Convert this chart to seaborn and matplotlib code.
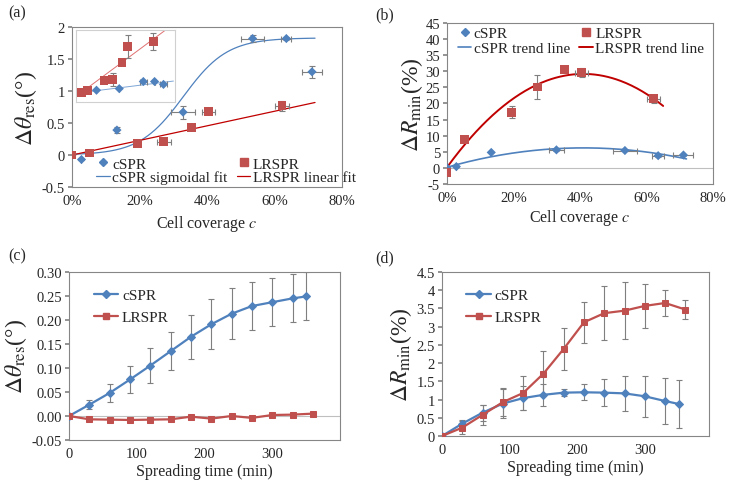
import numpy as np
import seaborn as sns
import matplotlib
matplotlib.use("Agg")
import matplotlib.pyplot as plt
from matplotlib.ticker import FuncFormatter, MultipleLocator
from matplotlib.lines import Line2D

# ---- (a) and (b): response vs cell coverage (%) ----
cov_c = [0, 2.8, 13.3, 32.9, 53.5, 63.5, 71.1]
cov_c_xerr = [0, 0, 0, 3.5, 3.5, 1.5, 3.0]
cov_l = [0, 5.2, 19.5, 27.2, 35.4, 40.5, 62.2]
cov_l_xerr = [0, 0, 0, 2.0, 0, 2.0, 2.0]

theta_c = [0, -0.07, 0.39, 0.67, 1.82, 1.82, 1.30]
theta_c_err = [0, 0, 0.05, 0.10, 0.05, 0.02, 0.09]
theta_l = [0, 0.03, 0.18, 0.21, 0.43, 0.68, 0.77]
theta_l_err = [0, 0, 0, 0.04, 0, 0.04, 0.08]

# fits in (a): sigmoid (A, x0, width) and straight line (slope, intercept)
sigmoid_c = [1.83, 33.0, 6.5]
linear_l = [0.0114, 0.0]

# inset of (a), arbitrary units
ins_x_l = [1.7, 3.4, 8.5, 11.1, 13.9, 15.7, 23.4]
ins_y_l = [0.135, 0.157, 0.305, 0.314, 0.552, 0.776, 0.843]
ins_err_l = [0, 0, 0, 0.09, 0, 0.164, 0.114]
ins_x_c = [6.2, 13.1, 20.4, 23.8, 26.5]
ins_y_c = [0.166, 0.188, 0.287, 0.287, 0.247]
ins_xerr_c = [0, 0, 1.1, 0, 1.1]
ins_fit_l = [0.034, 0.08]
ins_fit_c = [0.0057, 0.125]

dR_c = [0, 0.4, 4.8, 5.6, 5.4, 3.8, 4.0]
dR_c_err = [0, 0, 0, 0.3, 0.3, 0.4, 0.3]
dR_c_xerr = [0, 0, 0, 2.3, 3.5, 1.8, 3.0]
dR_l = [-1.5, 8.9, 17.3, 25.1, 30.5, 29.6, 21.5]
dR_l_err = [0, 0, 1.8, 3.7, 0, 1.5, 1.2]
dR_l_xerr = [0, 0, 0, 0, 0, 2.0, 2.0]

# quadratic trend lines in (b), x in %
trend_c = [-0.00357, 0.293, 0.2]
trend_l = [-0.01726, 1.415, 0.19]

# ---- (c) and (d): response vs spreading time (min) ----
time_c = [0, 30, 60, 90, 120, 150, 180, 210, 240, 270, 300, 330, 350]
time_l = [0, 30, 60, 90, 120, 150, 180, 210, 240, 270, 300, 330, 360]

t_theta_c = [0, 0.0236, 0.048, 0.076, 0.105, 0.135, 0.165, 0.191, 0.213, 0.229, 0.237, 0.245, 0.249]
t_theta_c_err = [0, 0.009, 0.018, 0.029, 0.036, 0.040, 0.046, 0.052, 0.053, 0.050, 0.050, 0.050, 0.050]
t_theta_l = [0, -0.007, -0.0076, -0.0083, -0.0076, -0.007, -0.0014, -0.0055, 0.0, -0.004, 0.002, 0.0028, 0.0049]
t_theta_l_err = [0, 0, 0, 0, 0, 0, 0.002, 0, 0, 0, 0.003, 0, 0]

t_R_c = [0, 0.34, 0.64, 0.89, 1.04, 1.13, 1.19, 1.20, 1.19, 1.17, 1.09, 0.96, 0.88]
t_R_c_err = [0, 0.10, 0.22, 0.40, 0.32, 0.30, 0.09, 0.22, 0.37, 0.48, 0.56, 0.63, 0.67]
t_R_l = [0, 0.23, 0.58, 0.93, 1.18, 1.71, 2.39, 3.12, 3.37, 3.44, 3.57, 3.65, 3.47]
t_R_l_err = [0, 0.18, 0.28, 0.38, 0.46, 0.62, 0.58, 0.57, 0.74, 0.78, 0.60, 0.37, 0.25]

BLUE = "#4F81BD"
RED = "#C0504D"
DARKRED = "#C00000"
GREY = "#868686"
ERR = "#7F7F7F"

sns.set_theme(style="white")
plt.rcParams["font.family"] = ["Liberation Serif", "DejaVu Serif"]
plt.rcParams["mathtext.fontset"] = "stix"
plt.rcParams["axes.unicode_minus"] = False

fig = plt.figure(figsize=(7.29, 4.89), dpi=100)
ax_a = fig.add_axes([0.0988, 0.6155, 0.3704, 0.3272])
ax_b = fig.add_axes([0.6132, 0.6217, 0.3649, 0.3292])
ax_c = fig.add_axes([0.0947, 0.0982, 0.3717, 0.3436])
ax_d = fig.add_axes([0.6063, 0.1063, 0.3663, 0.3354])

gfmt = FuncFormatter(lambda v, p: "{:g}".format(round(v, 3)))


def style(ax):
    for s in ax.spines.values():
        s.set_color(GREY)
        s.set_linewidth(0.8)
    ax.tick_params(labelsize=10.5, length=3, color=GREY, direction="out",
                   left=True, bottom=False, pad=2)


def errs(ax, x, y, yerr, xerr=None):
    ax.errorbar(x, y, yerr=yerr, xerr=xerr, fmt="none", ecolor=ERR,
                elinewidth=0.8, capsize=2, capthick=0.8, zorder=2)


# ---------- (a) ----------
ax = ax_a
style(ax)
xs = np.linspace(0, 72, 200)
A, x0, w = sigmoid_c
ax.plot(xs, A / (1 + np.exp(-(xs - x0) / w)), color=BLUE, lw=0.9, zorder=1)
ax.plot(xs, linear_l[0] * xs + linear_l[1], color=DARKRED, lw=0.9, zorder=1)
errs(ax, cov_c, theta_c, theta_c_err, cov_c_xerr)
errs(ax, cov_l, theta_l, theta_l_err, cov_l_xerr)
sns.scatterplot(x=cov_c, y=theta_c, marker="D", s=22, color=BLUE,
                edgecolor="none", ax=ax, zorder=3)
sns.scatterplot(x=cov_l, y=theta_l, marker="s", s=40, color=RED,
                edgecolor="none", ax=ax, zorder=3)
ax.set_xlim(0, 80)
ax.set_ylim(-0.5, 2)
ax.xaxis.set_major_locator(MultipleLocator(20))
ax.yaxis.set_major_locator(MultipleLocator(0.5))
ax.xaxis.set_major_formatter(FuncFormatter(lambda v, p: "{:.0f}%".format(v)))
ax.yaxis.set_major_formatter(gfmt)
ax.set_xlabel("Cell coverage $c$", fontsize=11.5, labelpad=4)
ax.set_ylabel(r"$\Delta\theta_{\mathrm{res}}$(°)", fontsize=17, labelpad=2)
h = [Line2D([], [], marker="D", ls="none", color=BLUE, ms=4.5),
     Line2D([], [], color=BLUE, lw=0.9),
     Line2D([], [], marker="s", ls="none", color=RED, ms=6),
     Line2D([], [], color=DARKRED, lw=0.9)]
ax.legend(h, ["cSPR", "cSPR sigmoidal fit", "LRSPR", "LRSPR linear fit"],
          ncol=2, loc="lower left", bbox_to_anchor=(0.05, -0.05), frameon=False,
          fontsize=11, handlelength=0.9, handletextpad=0.15, columnspacing=0.6,
          labelspacing=0.0, borderpad=0.2)

# inset
ins = fig.add_axes([0.1043, 0.789, 0.1358, 0.1472])
ins.set_facecolor("white")
for s in ins.spines.values():
    s.set_color("#D0D0D0")
    s.set_linewidth(0.8)
ins.set_xticks([])
ins.set_yticks([])
xi = np.linspace(1.2, 29.5, 50)
ins.plot(xi, ins_fit_l[0] * xi + ins_fit_l[1], color="#E07070", lw=0.7)
ins.plot(xi, ins_fit_c[0] * xi + ins_fit_c[1], color="#7FA6D6", lw=0.7)
errs(ins, ins_x_l, ins_y_l, ins_err_l)
errs(ins, ins_x_c, ins_y_c, None, ins_xerr_c)
sns.scatterplot(x=ins_x_l, y=ins_y_l, marker="s", s=40, color=RED,
                edgecolor="none", ax=ins, zorder=3)
sns.scatterplot(x=ins_x_c, y=ins_y_c, marker="D", s=22, color=BLUE,
                edgecolor="none", ax=ins, zorder=3)
ins.set_xlim(0, 30)
ins.set_ylim(0, 1)

# ---------- (b) ----------
ax = ax_b
style(ax)
ax.axhline(0, color="#BFBFBF", lw=0.8, zorder=0)
xb_c = np.linspace(0, 72, 200)
xb_l = np.linspace(0, 65, 200)
ax.plot(xb_c, np.polyval(trend_c, xb_c), color=BLUE, lw=1.2, zorder=1)
ax.plot(xb_l, np.polyval(trend_l, xb_l), color=DARKRED, lw=1.4, zorder=1)
errs(ax, cov_c, dR_c, dR_c_err, dR_c_xerr)
errs(ax, cov_l, dR_l, dR_l_err, dR_l_xerr)
sns.scatterplot(x=cov_c, y=dR_c, marker="D", s=22, color=BLUE,
                edgecolor="none", ax=ax, zorder=3)
sns.scatterplot(x=cov_l, y=dR_l, marker="s", s=40, color=RED,
                edgecolor="none", ax=ax, zorder=3)
ax.set_xlim(0, 80)
ax.set_ylim(-5, 45)
ax.xaxis.set_major_locator(MultipleLocator(20))
ax.yaxis.set_major_locator(MultipleLocator(5))
ax.xaxis.set_major_formatter(FuncFormatter(lambda v, p: "{:.0f}%".format(v)))
ax.yaxis.set_major_formatter(gfmt)
ax.set_xlabel("Cell coverage $c$", fontsize=11.5, labelpad=2)
ax.set_ylabel(r"$\Delta R_{\mathrm{min}}$(%)", fontsize=17, labelpad=0)
h = [Line2D([], [], marker="D", ls="none", color=BLUE, ms=4.5),
     Line2D([], [], color=BLUE, lw=1.2),
     Line2D([], [], marker="s", ls="none", color=RED, ms=6),
     Line2D([], [], color=DARKRED, lw=1.4)]
ax.legend(h, ["cSPR", "cSPR trend line", "LRSPR", "LRSPR trend line"],
          ncol=2, loc="upper left", bbox_to_anchor=(0.0, 1.045), frameon=False,
          fontsize=11, handlelength=0.9, handletextpad=0.15, columnspacing=0.6,
          labelspacing=0.1, borderpad=0.2)

# ---------- (c) ----------
ax = ax_c
style(ax)
ax.axhline(0, color="#BFBFBF", lw=0.8, zorder=0)
errs(ax, time_c, t_theta_c, t_theta_c_err)
errs(ax, time_l, t_theta_l, t_theta_l_err)
sns.lineplot(x=time_c, y=t_theta_c, color=BLUE, marker="D", markersize=4,
             markeredgecolor=BLUE, lw=1.6, ax=ax, zorder=3)
sns.lineplot(x=time_l, y=t_theta_l, color=RED, marker="s", markersize=5,
             markeredgecolor=RED, lw=1.6, ax=ax, zorder=3)
ax.set_xlim(0, 400)
ax.set_ylim(-0.05, 0.30)
ax.set_xticks([0, 100, 200, 300])
ax.yaxis.set_major_locator(MultipleLocator(0.05))
ax.yaxis.set_major_formatter(FuncFormatter(lambda v, p: "{:.2f}".format(v)))
ax.set_xlabel("Spreading time (min)", fontsize=11.5, labelpad=2)
ax.set_ylabel(r"$\Delta\theta_{\mathrm{res}}$(°)", fontsize=17, labelpad=2)
h = [Line2D([], [], color=BLUE, marker="D", ms=4, lw=1.6),
     Line2D([], [], color=RED, marker="s", ms=5, lw=1.6)]
ax.legend(h, ["cSPR", "LRSPR"], loc="upper left", bbox_to_anchor=(0.04, 0.985),
          frameon=False, fontsize=11, handlelength=1.6, handletextpad=0.25,
          labelspacing=0.55)

# ---------- (d) ----------
ax = ax_d
style(ax)
errs(ax, time_c, t_R_c, t_R_c_err)
errs(ax, time_l, t_R_l, t_R_l_err)
sns.lineplot(x=time_c, y=t_R_c, color=BLUE, marker="D", markersize=4,
             markeredgecolor=BLUE, lw=1.6, ax=ax, zorder=3)
sns.lineplot(x=time_l, y=t_R_l, color=RED, marker="s", markersize=5,
             markeredgecolor=RED, lw=1.6, ax=ax, zorder=3)
ax.set_xlim(0, 395)
ax.set_ylim(0, 4.5)
ax.set_xticks([0, 100, 200, 300])
ax.yaxis.set_major_locator(MultipleLocator(0.5))
ax.yaxis.set_major_formatter(gfmt)
ax.set_xlabel("Spreading time (min)", fontsize=11.5, labelpad=2)
ax.set_ylabel(r"$\Delta R_{\mathrm{min}}$(%)", fontsize=17, labelpad=2)
ax.legend(h, ["cSPR", "LRSPR"], loc="upper left", bbox_to_anchor=(0.04, 0.985),
          frameon=False, fontsize=11, handlelength=1.6, handletextpad=0.25,
          labelspacing=0.55)

for lab, x, y in [("(a)", 0.012, 0.972), ("(b)", 0.515, 0.968),
                  ("(c)", 0.012, 0.475), ("(d)", 0.515, 0.472)]:
    fig.text(x, y, lab, fontsize=11.5, va="center", ha="left")

fig.savefig("out.png", dpi=100)
